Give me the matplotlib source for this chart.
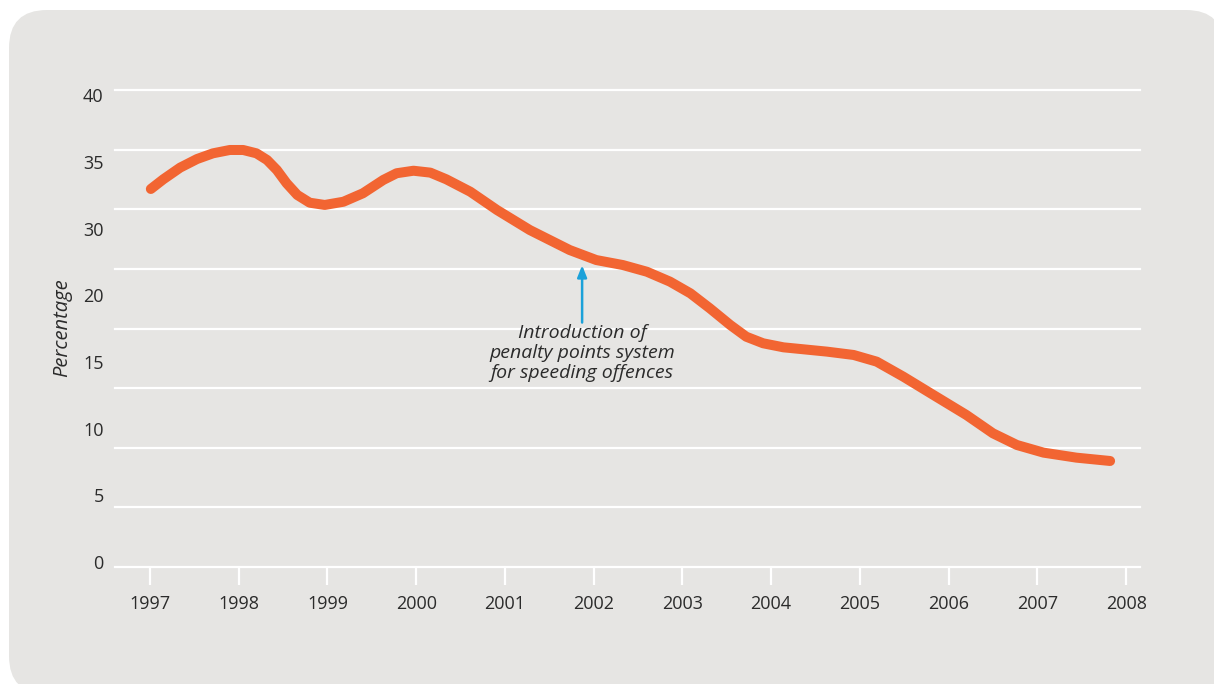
import numpy as np
import matplotlib
matplotlib.use('Agg')
import matplotlib.pyplot as plt
from matplotlib.patches import FancyBboxPatch
from matplotlib.transforms import IdentityTransform

plt.rcParams['font.family'] = ['Open Sans', 'DejaVu Sans']

# share of drivers over the speed limit
year = [1997.01, 1997.15, 1997.34, 1997.53, 1997.71, 1997.90, 1998.05, 1998.20,
        1998.32, 1998.43, 1998.54, 1998.66, 1998.80, 1998.97, 1999.18, 1999.40,
        1999.63, 1999.78, 1999.97, 2000.16, 2000.34, 2000.61, 2000.91, 2001.28,
        2001.73, 2002.03, 2002.33, 2002.60, 2002.86, 2003.09, 2003.31, 2003.54,
        2003.72, 2003.91, 2004.14, 2004.25, 2004.63, 2004.93, 2005.19, 2005.49,
        2005.83, 2006.20, 2006.50, 2006.77, 2007.07, 2007.44, 2007.82]
pct = [31.70, 32.51, 33.49, 34.21, 34.69, 34.97, 34.97, 34.69,
       34.13, 33.29, 32.18, 31.20, 30.55, 30.36, 30.63, 31.34,
       32.46, 33.02, 33.23, 33.07, 32.51, 31.47, 29.94, 28.26,
       26.58, 25.74, 25.32, 24.76, 23.93, 22.95, 21.69, 20.29,
       19.31, 18.76, 18.42, 18.34, 18.06, 17.78, 17.22, 15.96,
       14.42, 12.75, 11.21, 10.23, 9.59, 9.17, 8.89]

xticks = list(range(1997, 2009))
grid_vals = [0, 5, 10, 15, 20, 25, 30, 35, 40]
ylabels = ['40', '35', '30', '20', '15', '10', '5', '0']

note_x = 2001.87
note_tip = 25.3
note_tail = 20.5
note_text = 'Introduction of\npenalty points system\nfor speeding offences'

W, H = 1214, 684
fig = plt.figure(figsize=(W / 100, H / 100), dpi=100)
fig.patch.set_facecolor('white')

# rounded grey panel behind everything (pixel coordinates)
bg = FancyBboxPatch((9, -10), 1215, 684, boxstyle='round,pad=0,rounding_size=38',
                    transform=IdentityTransform(), facecolor='#e6e5e3',
                    edgecolor='none', zorder=-10)
fig.patches.append(bg)

ax = fig.add_axes([115 / W, 117 / H, 1025 / W, 477 / H], zorder=5)
ax.set_facecolor('none')
ax.set_xlim(1996.606, 2008.157)
ax.set_ylim(0, 40)
for s in ax.spines.values():
    s.set_visible(False)

for v in grid_vals:
    ax.axhline(v, color='white', lw=1.6, zorder=1, clip_on=False)

ax.plot(year, pct, color='#f26532', lw=7.2, solid_capstyle='round',
        solid_joinstyle='round', zorder=3)

ax.set_xticks(xticks)
ax.set_xticklabels([str(y) for y in xticks], fontsize=13, color='#2b2b2b')
ax.tick_params(axis='x', length=13, width=1.6, color='white', direction='out', pad=7)
ax.set_yticks([])

for i, lab in enumerate(ylabels):
    yv = 39.4 - i * (39.15 / 7)
    ax.text(-0.011, yv, lab, transform=ax.get_yaxis_transform(), ha='right',
            va='center', fontsize=13, color='#2b2b2b')

ax.text(-0.052, 20.1, 'Percentage', transform=ax.get_yaxis_transform(), rotation=90,
        ha='center', va='center', fontsize=14.5, style='italic', color='#2b2b2b')

ax.annotate('', xy=(note_x, note_tip), xytext=(note_x, note_tail),
            arrowprops=dict(arrowstyle='-|>,head_length=0.7,head_width=0.28',
                            color='#1ba1d9', lw=1.8, shrinkA=0, shrinkB=0), zorder=4)
ax.text(note_x, note_tail - 0.1, note_text, ha='center', va='top', fontsize=14,
        style='italic', color='#2b2b2b', linespacing=1.15, zorder=4)

fig.savefig('out.png', dpi=100)
